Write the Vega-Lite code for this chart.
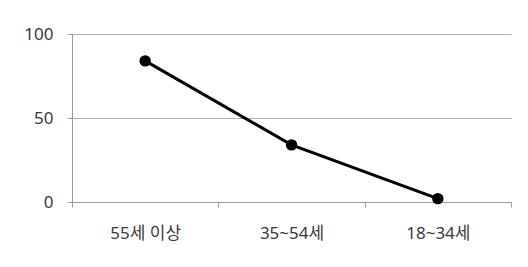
{
  "$schema": "https://vega.github.io/schema/vega-lite/v6.json",
  "width": 439,
  "height": 168,
  "autosize": {"type": "none"},
  "padding": {"left": 72, "top": 34, "right": 17, "bottom": 65},
  "background": "white",
  "data": {
    "values": [
      {"age": "55세 이상", "value": 84},
      {"age": "35~54세", "value": 34},
      {"age": "18~34세", "value": 2}
    ]
  },
  "encoding": {
    "x": {
      "field": "age",
      "type": "nominal",
      "sort": null,
      "scale": {"type": "band", "paddingInner": 0, "paddingOuter": 0},
      "axis": {
        "title": null,
        "labelAngle": 0,
        "tickBand": "extent",
        "domainColor": "#9a9a9a",
        "tickColor": "#9a9a9a",
        "tickSize": 5,
        "labelPadding": 18,
        "labelFontSize": 17,
        "labelColor": "#3a3a3a",
        "grid": false
      }
    },
    "y": {
      "field": "value",
      "type": "quantitative",
      "scale": {"domain": [0, 100]},
      "axis": {
        "title": null,
        "values": [0, 50, 100],
        "domainColor": "#9a9a9a",
        "tickColor": "#9a9a9a",
        "tickSize": 5,
        "labelPadding": 14,
        "labelFontSize": 17,
        "labelColor": "#3a3a3a",
        "gridColor": "#b0b0b0",
        "grid": true
      }
    }
  },
  "layer": [
    {"mark": {"type": "line", "color": "black", "strokeWidth": 3}},
    {"mark": {"type": "point", "filled": true, "color": "black", "size": 130, "opacity": 1}}
  ],
  "config": {
    "view": {"stroke": null},
    "font": "Noto Sans, Noto Sans CJK KR"
  }
}
